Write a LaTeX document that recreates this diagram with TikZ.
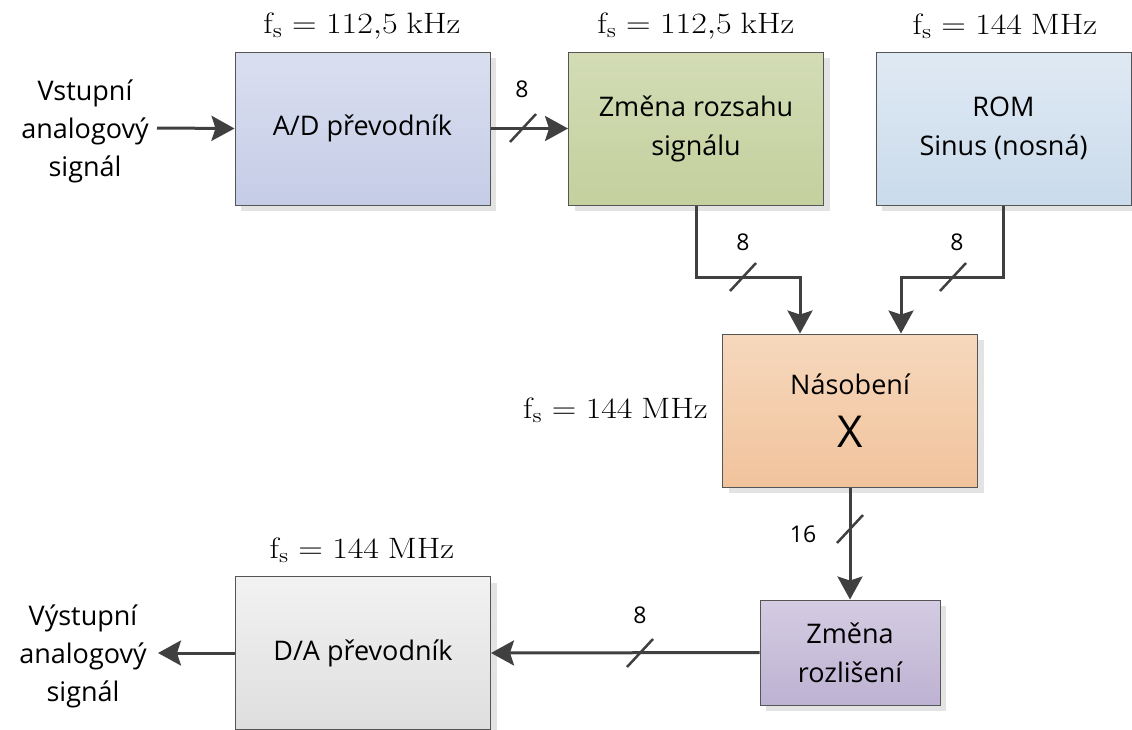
\documentclass[tikz,border=0pt]{standalone}
\usepackage{graphicx}
\usepackage[no-math]{fontspec}
\setmainfont{Open Sans}
\usetikzlibrary{arrows.meta,shadows,calc}
\definecolor{edgec}{HTML}{555555}
\definecolor{wirec}{HTML}{404040}
\newcommand{\fsmath}[1]{\scalebox{1.64}[1.42]{$#1$}}
\tikzset{
  blk/.style={draw=edgec, line width=1pt, minimum width=255pt, minimum height=153pt,
    inner sep=0pt, align=center, font=\fontsize{27}{39}\selectfont,
    general shadow={fill=black!11, shadow xshift=6pt, shadow yshift=-6pt}},
  wire/.style={draw=wirec, line width=3pt},
  arr/.style={wire, -{Stealth[length=23pt,width=25pt,inset=4pt]}},
  lbl/.style={font=\fontsize{23}{28}\selectfont, inner sep=0pt},
  fsl/.style={font=\fontsize{20.74}{25}\selectfont, inner sep=0pt},
  txt/.style={align=center, font=\fontsize{27}{38}\selectfont, inner sep=0pt},
  busmark/.pic={\draw[draw=wirec, line width=2.5pt] (-13,14) -- (13,-14);}
}
\begin{document}
\begin{tikzpicture}[x=1pt,y=-1pt]
\useasboundingbox (0,0) rectangle (1132,729);
% blocks
\node[blk, top color={rgb,255:red,218;green,223;blue,240}, bottom color={rgb,255:red,197;green,204;blue,230}] (ad) at (362.5,128.5) {A/D převodník};
\node[blk, top color={rgb,255:red,211;green,220;blue,181}, bottom color={rgb,255:red,196;green,208;blue,158}] (zr) at (696,128.5) {Změna rozsahu\\signálu};
\node[blk, top color={rgb,255:red,223;green,233;blue,244}, bottom color={rgb,255:red,202;green,219;blue,235}] (rom) at (1003.5,128.5) {ROM\\Sinus (nosná)};
\node[blk, top color={rgb,255:red,246;green,216;blue,189}, bottom color={rgb,255:red,241;green,195;blue,156}] (nas) at (850,410.5) {Násobení\\[14pt]{\fontsize{44}{44}\selectfont X}};
\node[blk, minimum width=180pt, minimum height=105pt, top color={rgb,255:red,212;green,204;blue,226}, bottom color={rgb,255:red,189;green,178;blue,210}] (zl) at (850,652.5) {Změna\\rozlišení};
\node[blk, top color={rgb,255:red,242;green,242;blue,242}, bottom color={rgb,255:red,222;green,222;blue,222}] (da) at (363,653) {D/A převodník};
% texts
\node[txt] (vin) at (85,131) {Vstupní\\analogový\\signál};
\node[txt] (vout) at (83,656) {Výstupní\\analogový\\signál};
% fs labels
\node[fsl] (f1) at (362,26) {\fsmath{\mathrm{f_s} = 112{,}5\ \mathrm{kHz}}};
\node[fsl] (f2) at (696,26) {\fsmath{\mathrm{f_s} = 112{,}5\ \mathrm{kHz}}};
\node[fsl] (f3) at (1005,26) {\fsmath{\mathrm{f_s} = 144\ \mathrm{MHz}}};
\node[fsl, anchor=east] (f4) at (708,410) {\fsmath{\mathrm{f_s} = 144\ \mathrm{MHz}}};
\node[fsl] (f5) at (362,550) {\fsmath{\mathrm{f_s} = 144\ \mathrm{MHz}}};
% connectors
\coordinate (c1) at (800,277);
\coordinate (c2) at (901,277);
\coordinate (inS) at (157,128);
\coordinate (outE) at (158,653);
\draw[arr] (inS) -- (ad.west);
\draw[arr] (ad.east) -- (zr.west);
\draw[arr] (zr.south) |- (c1) -- (c1 |- nas.north);
\draw[arr] (rom.south) |- (c2) -- (c2 |- nas.north);
\draw[arr] (nas.south) -- (zl.north);
\draw[arr] (zl.west) -- (da.east);
\draw[arr] (da.west) -- (outE);
% bus marks and widths
\pic at (523,128) {busmark};
\node[lbl] (n1) at (522,89) {8};
\pic at (743,277) {busmark};
\node[lbl] (n2) at (743,242) {8};
\pic at (953,277) {busmark};
\node[lbl] (n3) at (957,242) {8};
\pic at (850,529) {busmark};
\node[lbl] (n4) at (803,534) {16};
\pic at (640,653) {busmark};
\node[lbl] (n5) at (640,615) {8};
\end{tikzpicture}
\end{document}
